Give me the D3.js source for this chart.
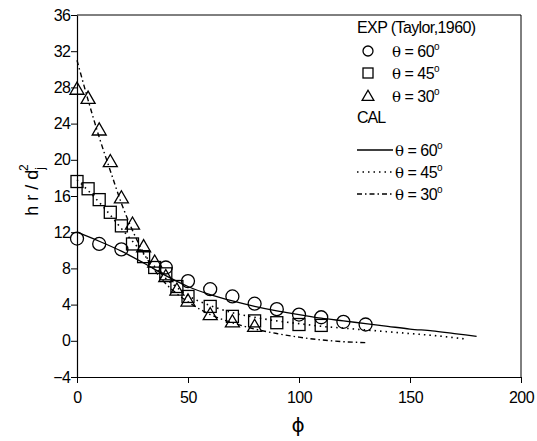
<!DOCTYPE html>
<html>
<head>
<meta charset="utf-8">
<script src="https://cdn.jsdelivr.net/npm/d3@7"></script>
<style>
  html, body { margin: 0; padding: 0; background: #fff; overflow: hidden; }
  svg { display: block; }
  text { font-family: "Liberation Sans", Arial, sans-serif; fill: #000; }
</style>
</head>
<body>
<div id="chart"></div>
<script>
// Experimental points (Taylor, 1960)
const expPhi60 = [0, 10, 20, 40, 50, 60, 70, 80, 90, 100, 110, 120, 130]
const expH60 = [11.3, 10.7, 10.1, 8.1, 6.6, 5.7, 4.9, 4.1, 3.5, 2.9, 2.6, 2.1, 1.8]
const expPhi45 = [0, 5, 10, 15, 20, 25, 30, 35, 40, 45, 50, 60, 70, 80, 90, 100, 110]
const expH45 = [17.6, 16.8, 15.6, 14.2, 12.7, 10.7, 9.3, 8.1, 7.4, 6.0, 4.9, 3.8, 2.7, 2.2, 2.0, 1.8, 1.7]
const expPhi30 = [0, 5, 10, 15, 20, 25, 30, 35, 40, 45, 50, 60, 70, 80]
const expH30 = [27.8, 26.8, 23.3, 19.8, 15.8, 12.9, 10.4, 8.7, 7.1, 5.6, 4.4, 2.9, 2.1, 1.6]

// Calculated curves
const calPhi60 = [0, 10, 20, 30, 40, 50, 60, 70, 80, 90, 100, 110, 120, 130, 140, 150, 160, 170, 180]
const calH60 = [12.0, 11.0, 9.9, 8.6, 7.2, 6.0, 5.1, 4.4, 3.8, 3.3, 2.9, 2.5, 2.2, 1.9, 1.6, 1.3, 1.1, 0.8, 0.5]
const calPhi45 = [0, 5, 10, 15, 20, 25, 30, 35, 40, 45, 50, 60, 70, 80, 90, 100, 110, 120, 130, 140, 150, 160, 175]
const calH45 = [17.8, 16.6, 15.3, 13.9, 12.4, 11.0, 9.6, 8.2, 6.9, 5.9, 5.0, 3.9, 3.1, 2.6, 2.2, 1.9, 1.6, 1.4, 1.2, 1.0, 0.8, 0.6, 0.2]
const calPhi30 = [0, 5, 10, 15, 20, 25, 30, 35, 40, 45, 50, 60, 70, 80, 90, 100, 110, 120, 130]
const calH30 = [31.0, 26.6, 22.5, 18.8, 15.2, 12.2, 9.7, 7.8, 6.3, 5.2, 4.3, 2.9, 2.0, 1.3, 0.8, 0.4, 0.1, -0.1, -0.2]

const xTicks = [0, 50, 100, 150, 200]
const yTicks = [-4, 0, 4, 8, 12, 16, 20, 24, 28, 32, 36]

const width = 537
const height = 441
const margin = { top: 15, right: 16, bottom: 64, left: 77 }
const innerWidth = width - margin.left - margin.right
const innerHeight = height - margin.top - margin.bottom

const svg = d3.select('#chart')
  .append('svg')
  .attr('width', width)
  .attr('height', height)

const g = svg.append('g')
  .attr('transform', `translate(${margin.left}, ${margin.top})`)

const xScale = d3.scaleLinear().domain([0, 200]).range([0, innerWidth])
const yScale = d3.scaleLinear().domain([-4, 36]).range([innerHeight, 0])

// Frame (top and right)
g.append('line').attr('x1', 0).attr('x2', innerWidth).attr('y1', 0).attr('y2', 0)
  .attr('stroke', '#000').attr('stroke-width', 1)
g.append('line').attr('x1', innerWidth).attr('x2', innerWidth).attr('y1', 0).attr('y2', innerHeight)
  .attr('stroke', '#000').attr('stroke-width', 1)

// Bottom axis
const xAxis = g.append('g')
  .attr('transform', `translate(0, ${innerHeight})`)
  .call(d3.axisBottom(xScale).tickValues(xTicks).tickSize(6).tickPadding(9).tickSizeOuter(0))
xAxis.selectAll('text').style('font-size', '16px').style('letter-spacing', '-0.5px')

// Left axis
const yAxis = g.append('g')
  .call(d3.axisLeft(yScale).tickValues(yTicks).tickSize(6).tickPadding(1).tickSizeOuter(0))
yAxis.selectAll('text').style('font-size', '16px').style('letter-spacing', '-0.8px')

svg.selectAll('.domain').attr('stroke', '#000').attr('stroke-width', 1.2)
svg.selectAll('.tick line').attr('stroke', '#000')

// Calculated lines
const line = d3.line().x(d => xScale(d[0])).y(d => yScale(d[1])).curve(d3.curveMonotoneX)
const zip = (a, b) => a.map((v, i) => [v, b[i]])

g.append('path').datum(zip(calPhi60, calH60)).attr('d', line)
  .attr('fill', 'none').attr('stroke', '#000').attr('stroke-width', 1.3)
g.append('path').datum(zip(calPhi45, calH45)).attr('d', line)
  .attr('fill', 'none').attr('stroke', '#000').attr('stroke-width', 1.6).attr('stroke-dasharray', '1.5,4')
g.append('path').datum(zip(calPhi30, calH30)).attr('d', line)
  .attr('fill', 'none').attr('stroke', '#000').attr('stroke-width', 1.4).attr('stroke-dasharray', '5,3,1.5,3')

// Experimental markers
const markerStyle = sel => sel.attr('fill', 'none').attr('stroke', '#000').attr('stroke-width', 1.3)

g.selectAll('.sq').data(zip(expPhi45, expH45)).enter().append('rect')
  .attr('x', d => xScale(d[0]) - 6).attr('y', d => yScale(d[1]) - 6)
  .attr('width', 12).attr('height', 12).call(markerStyle)

const tri = d3.symbol().type(d3.symbolTriangle).size(85)
g.selectAll('.tri').data(zip(expPhi30, expH30)).enter().append('path')
  .attr('d', tri)
  .attr('transform', d => `translate(${xScale(d[0])}, ${yScale(d[1]) + 1})`)
  .call(markerStyle)

g.selectAll('.circ').data(zip(expPhi60, expH60)).enter().append('circle')
  .attr('cx', d => xScale(d[0])).attr('cy', d => yScale(d[1]))
  .attr('r', 6.5).call(markerStyle)

// Legend
const legend = svg.append('g')
const thetaLabel = (x, y, deg) => {
  const t = legend.append('text').attr('x', x).attr('y', y).style('font-size', '16px').style('letter-spacing', '-0.5px')
  t.append('tspan').style('font-family', '"DejaVu Serif", serif').style('font-size', '15px').text('θ')
  t.append('tspan').text(' = ' + deg)
  t.append('tspan').attr('dy', -7).style('font-size', '10px').text('o')
}

legend.append('text').attr('x', 357).attr('y', 33).style('font-size', '16px')
  .style('letter-spacing', '-0.6px').text('EXP (Taylor,1960)')

legend.append('circle').attr('cx', 368).attr('cy', 51).attr('r', 5).call(markerStyle)
thetaLabel(392, 57, 60)
legend.append('rect').attr('x', 363).attr('y', 68).attr('width', 10).attr('height', 10).call(markerStyle)
thetaLabel(392, 79, 45)
legend.append('path').attr('d', d3.symbol().type(d3.symbolTriangle).size(60))
  .attr('transform', 'translate(368, 97)').call(markerStyle)
thetaLabel(392, 102, 30)
legend.append('text').attr('x', 357).attr('y', 123).style('font-size', '16px')
  .style('letter-spacing', '-1px').text('CAL')

legend.append('line').attr('x1', 357).attr('x2', 393).attr('y1', 150).attr('y2', 150)
  .attr('stroke', '#000').attr('stroke-width', 1.3)
thetaLabel(395, 156, 60)
legend.append('line').attr('x1', 357).attr('x2', 393).attr('y1', 172).attr('y2', 172)
  .attr('stroke', '#000').attr('stroke-width', 1.6).attr('stroke-dasharray', '1.5,4')
thetaLabel(395, 178, 45)
legend.append('line').attr('x1', 357).attr('x2', 393).attr('y1', 194).attr('y2', 194)
  .attr('stroke', '#000').attr('stroke-width', 1.4).attr('stroke-dasharray', '5,3,1.5,3')
thetaLabel(395, 200, 30)

// Axis titles
svg.append('text').attr('x', 298).attr('y', 432).attr('text-anchor', 'middle')
  .style('font-family', '"DejaVu Sans", sans-serif').style('font-size', '20px').text('ϕ')

const yTitle = svg.append('text')
  .attr('transform', 'translate(38, 190) rotate(-90)')
  .attr('text-anchor', 'middle')
  .style('font-size', '18px')
yTitle.append('tspan').text('h r / d')
yTitle.append('tspan').attr('dy', 6).style('font-size', '12px').text('j')
yTitle.append('tspan').attr('dx', -4).attr('dy', -16).style('font-size', '12px').text('2')
</script>
</body>
</html>
